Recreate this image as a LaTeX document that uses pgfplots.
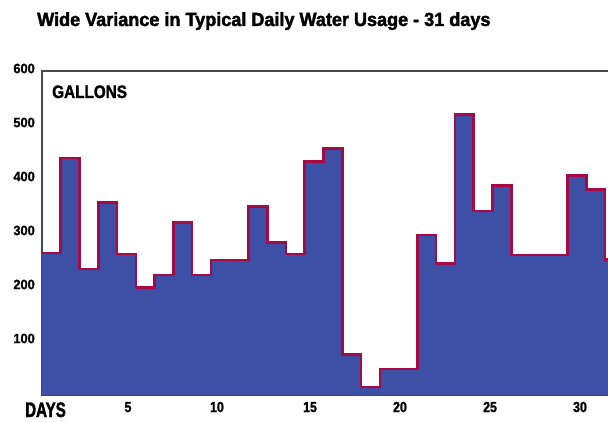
\documentclass[border=0pt]{standalone}
\usepackage{fontspec}
\setmainfont{Liberation Sans}
\newfontfamily\titlefont[FakeStretch=0.95,FakeBold=2]{Liberation Sans}
\newfontfamily\condfont[FakeStretch=0.85,FakeBold=1.6]{Liberation Sans}
\newfontfamily\tickfont[FakeStretch=0.95,FakeBold=1.2]{Liberation Sans}
\newfontfamily\narrowfont[FakeStretch=0.72,FakeBold=1.8]{Liberation Sans}
\usepackage{pgfplots}
\pgfplotsset{compat=1.18}
\definecolor{barblue}{RGB}{62,80,165}
\definecolor{stepred}{RGB}{165,10,70}
\definecolor{framegray}{RGB}{70,70,75}
\begin{document}
\begin{tikzpicture}
\useasboundingbox (-42pt,-26pt) rectangle (566pt,395pt);
\clip (-42pt,-26pt) rectangle (566pt,395pt);
\fill[white] (-42pt,-26pt) rectangle (566pt,395pt);
\begin{axis}[
  at={(0pt,0pt)}, anchor=south west,
  scale only axis,
  width=581.9pt, height=324pt,
  xmin=0.5, xmax=31.5, ymin=0, ymax=600,
  axis line style={draw=framegray, line width=1.3pt},
  major tick length=0pt,
  xtick={5.08,9.82,14.78,19.57,24.37,29.16},
  xticklabels={5,10,15,20,25,30},
  ytick={100,200,300,400,500,600},
  /pgf/number format/assume math mode=true,
  xticklabel style={font=\condfont\bfseries\fontsize{14.5}{14.5}\selectfont, anchor=base, yshift=-17pt},
  yticklabel style={font=\tickfont\bfseries\fontsize{13.5}{13.5}\selectfont, anchor=east, inner sep=0pt, xshift=-7pt, yshift=2.5pt},
  clip=true,
]
\addplot[const plot, fill=barblue, draw=none] coordinates {
(0.5,263) (1.5,439) (2.5,233) (3.5,357) (4.5,261) (5.5,199) (6.5,222) (7.5,319)
(8.5,222) (9.5,250) (10.5,250) (11.5,349) (12.5,282) (13.5,261) (14.5,432) (15.5,457)
(16.5,75) (17.5,15) (18.5,48) (19.5,48) (20.5,296) (21.5,244) (22.5,520) (23.5,341)
(24.5,388) (25.5,259) (26.5,259) (27.5,259) (28.5,406) (29.5,381) (30.5,251) (31.5,251)
} \closedcycle;
\addplot[const plot, draw=stepred, line width=2.6pt, line join=miter, mark=none] coordinates {
(0.5,263) (1.5,439) (2.5,233) (3.5,357) (4.5,261) (5.5,199) (6.5,222) (7.5,319)
(8.5,222) (9.5,250) (10.5,250) (11.5,349) (12.5,282) (13.5,261) (14.5,432) (15.5,457)
(16.5,75) (17.5,15) (18.5,48) (19.5,48) (20.5,296) (21.5,244) (22.5,520) (23.5,341)
(24.5,388) (25.5,259) (26.5,259) (27.5,259) (28.5,406) (29.5,381) (30.5,251) (31.5,251)
};
\end{axis}
\node[anchor=base west, inner sep=0pt, font=\titlefont\bfseries\fontsize{19}{19}\selectfont] at (-5pt,369pt) {Wide Variance in Typical Daily Water Usage - 31 days};
\node[anchor=base west, inner sep=0pt, font=\condfont\bfseries\fontsize{18}{18}\selectfont] at (10pt,297pt) {GALLONS};
\node[anchor=base west, inner sep=0pt, font=\narrowfont\bfseries\fontsize{21}{21}\selectfont] at (-17pt,-22pt) {DAYS};
\end{tikzpicture}
\end{document}
